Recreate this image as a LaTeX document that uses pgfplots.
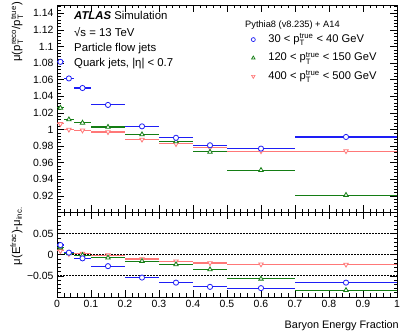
\documentclass[border=0pt]{standalone}
\usepackage{pgfplots}
\pgfplotsset{compat=1.18}
\usepackage{pgfplotstable}
\usepackage{fontspec}
\setmainfont{Liberation Sans}
\definecolor{cblue}{RGB}{30,30,245}
\definecolor{cgreen}{RGB}{20,125,20}
\definecolor{cred}{RGB}{255,120,120}
\newcommand\supsub[2]{$^{\mbox{\fontsize{7.8}{8}\selectfont #1}}_{\mbox{\fontsize{7.8}{8}\selectfont #2}}$}

\pgfplotstableread{
x ex y ey
0.01 0.01 1.0815 0.002
0.035 0.015 1.0615 0.002
0.075 0.025 1.050 0.0015
0.15 0.05 1.0296 0.001
0.25 0.05 1.0038 0.001
0.35 0.05 0.990 0.001
0.45 0.05 0.981 0.001
0.6 0.1 0.977 0.001
0.85 0.15 0.991 0.001
}\upblue
\pgfplotstableread{
x ex y ey
0.01 0.01 1.026 0.002
0.035 0.015 1.012 0.002
0.075 0.025 1.008 0.0015
0.15 0.05 1.003 0.001
0.25 0.05 0.994 0.001
0.35 0.05 0.9855 0.001
0.45 0.05 0.973 0.001
0.6 0.1 0.951 0.001
0.85 0.15 0.921 0.001
}\upgreen
\pgfplotstableread{
x ex y ey
0.01 0.01 1.0067 0.002
0.035 0.015 1.000 0.002
0.075 0.025 0.999 0.0015
0.15 0.05 0.997 0.001
0.25 0.05 0.988 0.001
0.35 0.05 0.9826 0.001
0.45 0.05 0.978 0.001
0.6 0.1 0.974 0.001
0.85 0.15 0.974 0.001
}\upred
\pgfplotstableread{
x ex y ey
0.01 0.01 0.023 0.003
0.035 0.015 0.005 0.003
0.075 0.025 -0.0085 0.002
0.15 0.05 -0.027 0.002
0.25 0.05 -0.054 0.002
0.35 0.05 -0.066 0.002
0.45 0.05 -0.076 0.002
0.6 0.1 -0.079 0.002
0.85 0.15 -0.066 0.002
}\lowblue
\pgfplotstableread{
x ex y ey
0.01 0.01 0.017 0.003
0.035 0.015 0.003 0.003
0.075 0.025 -0.001 0.002
0.15 0.05 -0.007 0.002
0.25 0.05 -0.015 0.002
0.35 0.05 -0.023 0.002
0.45 0.05 -0.035 0.002
0.6 0.1 -0.057 0.002
0.85 0.15 -0.084 0.002
}\lowgreen
\pgfplotstableread{
x ex y ey
0.01 0.01 0.009 0.004
0.035 0.015 0.002 0.003
0.075 0.025 0.003 0.003
0.15 0.05 -0.001 0.003
0.25 0.05 -0.010 0.003
0.35 0.05 -0.0155 0.003
0.45 0.05 -0.0195 0.002
0.6 0.1 -0.0225 0.002
0.85 0.15 -0.023 0.002
}\lowred

\pgfplotsset{
  panel/.style={
    scale only axis, width=340bp, xmin=0, xmax=1,
    xtick={0,0.1,0.2,0.3,0.4,0.5,0.6,0.7,0.8,0.9,1},
    minor x tick num=4,
    major tick length=7bp, minor tick length=3.5bp,
    tick style={black, line width=0.6bp},
    axis line style={line width=0.8bp},
    tick label style={font=\fontsize{10.5}{12}\selectfont},
    clip=false,
  },
  ser/.style={only marks, mark size=2.6bp, line width=1.1bp,
    mark options={fill=white, line width=0.8bp, solid},
    error bars/x dir=both, error bars/x explicit, error bars/y dir=both, error bars/y explicit,
    error bars/error mark=none, error bars/error bar style={line width=1.1bp}},
  limg/.style={only marks, mark size=2bp, mark options={fill=white, line width=0.7bp},
    legend image code/.code={\path[draw=none] (-4bp,0) -- (14bp,0); \draw[##1] plot coordinates {(0bp,0bp)};}},
}

\begin{document}
\begin{tikzpicture}
\path[use as bounding box] (0,0) rectangle (407bp,335bp);
\begin{axis}[panel, at={(57bp,122.5bp)}, anchor=south west, height=207.5bp,
  ymin=0.9, ymax=1.15, xticklabels={},
  ytick={0.9,0.92,0.94,0.96,0.98,1,1.02,1.04,1.06,1.08,1.1,1.12,1.14},
  yticklabels={,0.92,0.94,0.96,0.98,1,1.02,1.04,1.06,1.08,1.1,1.12,1.14},
  minor y tick num=4,
  extra y ticks={1.144,1.148}, extra y tick labels={},
  extra y tick style={major tick length=3.5bp},
  legend style={at={(rel axis cs:0.565,0.868)}, anchor=north west, draw=none, fill=none,
    font=\fontsize{11.2}{13}\selectfont, row sep=4.4bp, inner sep=0pt,
    nodes={text height=9bp, text depth=3bp, inner sep=1bp}},
  legend cell align=left,
]
\addlegendimage{limg, cblue, mark=*}
\addlegendentry{30 < p\supsub{true}{T} < 40 GeV}
\addlegendimage{limg, cgreen, mark=triangle*}
\addlegendentry{120 < p\supsub{true}{T} < 150 GeV}
\addlegendimage{limg, cred, mark=triangle*, mark options={fill=white, line width=0.7bp, rotate=180}}
\addlegendentry{400 < p\supsub{true}{T} < 500 GeV}
\addplot[ser, cred, mark=triangle*, mark options={fill=white, line width=0.8bp, solid, rotate=180}] table[x=x, y=y, x error=ex, y error=ey] {\upred};
\addplot[ser, cgreen, mark=triangle*] table[x=x, y=y, x error=ex, y error=ey] {\upgreen};
\addplot[ser, cblue, mark=*] table[x=x, y=y, x error=ex, y error=ey] {\upblue};
\end{axis}
\begin{axis}[panel, at={(57bp,38bp)}, anchor=south west, height=84.5bp,
  ymin=-0.1, ymax=0.1,
  xticklabels={0,0.1,0.2,0.3,0.4,0.5,0.6,0.7,0.8,0.9,1},
  ytick={-0.1,-0.05,0,0.05,0.1},
  yticklabels={,−0.05,0,0.05,},
  minor y tick num=4,
]
\addplot[black, line width=1bp, dash pattern=on 1.5bp off 1.5bp] coordinates {(0,0.05) (1,0.05)};
\addplot[black, line width=1bp, dash pattern=on 1.5bp off 1.5bp] coordinates {(0,0) (1,0)};
\addplot[black, line width=1bp, dash pattern=on 1.5bp off 1.5bp] coordinates {(0,-0.05) (1,-0.05)};
\addplot[ser, cred, mark=triangle*, mark options={fill=white, line width=0.8bp, solid, rotate=180}] table[x=x, y=y, x error=ex, y error=ey] {\lowred};
\addplot[ser, cgreen, mark=triangle*] table[x=x, y=y, x error=ex, y error=ey] {\lowgreen};
\addplot[ser, cblue, mark=*] table[x=x, y=y, x error=ex, y error=ey] {\lowblue};
\end{axis}
\begin{scope}[every node/.style={inner sep=0pt, font=\fontsize{11.4}{13}\selectfont}]
\node[anchor=base west] at (74bp,315bp) {\textbf{\textit{ATLAS}} Simulation};
\node[anchor=base west] at (74bp,298bp) {√s = 13 TeV};
\node[anchor=base west] at (74bp,283bp) {Particle flow jets};
\node[anchor=base west] at (74bp,268bp) {Quark jets, |η| < 0.7};
\node[anchor=base west, font=\fontsize{9.3}{11}\selectfont] at (245bp,307bp) {Pythia8 (v8.235) + A14};
\node[anchor=base east, font=\fontsize{10.9}{13}\selectfont] at (399bp,7bp) {Baryon Energy Fraction};
\node[anchor=base east, rotate=90] at (20bp,333bp) {μ(p\supsub{reco}{T}/p\supsub{true}{T})};
\node[anchor=base east, rotate=90] at (20bp,128bp) {μ(E\textsuperscript{\fontsize{7.8}{8}\selectfont frac})-μ\textsubscript{\fontsize{7.8}{8}\selectfont inc.}};
\end{scope}
\end{tikzpicture}
\end{document}
